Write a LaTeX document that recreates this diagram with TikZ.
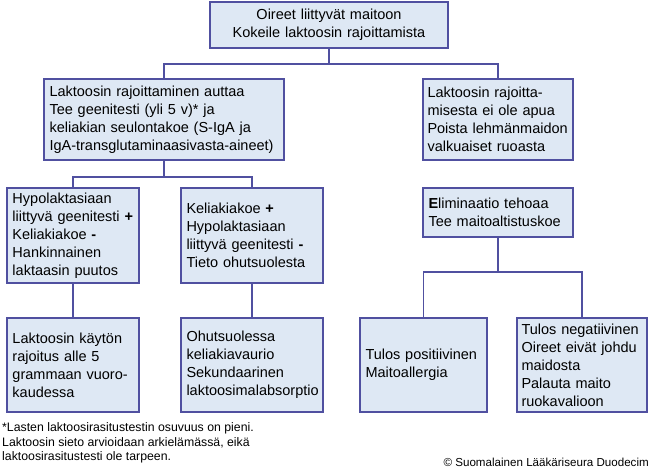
\documentclass[tikz,border=0pt]{standalone}
\usepackage{fontspec}
\setmainfont{Liberation Sans}
\definecolor{bord}{RGB}{80,80,160}
\definecolor{boxfill}{RGB}{222,232,244}
\tikzset{
  box/.style={draw=bord, fill=boxfill, line width=1.3pt, inner xsep=5.5pt, inner ysep=0pt,
    align=left, font=\fontsize{14.5}{18}\selectfont},
  conn/.style={draw=bord, line width=1.3pt},
}
\begin{document}
\begin{tikzpicture}[x=1pt,y=-1pt]
\useasboundingbox (0,0) rectangle (650,469);
% top
\node[box, align=center, minimum width=238pt, minimum height=46pt, text width=227pt] (top) at (329,25)
  {Oireet liittyvät maitoon\\Kokeile laktoosin rajoittamista};
% level 1
\node[box, minimum width=240pt, minimum height=81pt, text width=229pt] (L1) at (164,119.5)
  {Laktoosin rajoittaminen auttaa\\Tee geenitesti (yli 5 v)* ja\\keliakian seulontakoe (S-IgA ja\\IgA-transglutaminaasivasta-aineet)};
\node[box, minimum width=150pt, minimum height=81pt, text width=141pt, inner xsep=4.5pt] (R1) at (498,119.5)
  {Laktoosin rajoitta-\\misesta ei ole apua\\Poista lehmänmaidon\\valkuaiset ruoasta};
% level 2
\node[box, minimum width=132pt, minimum height=95pt, text width=121pt] (L2a) at (73,235.5)
  {Hypolaktasiaan\\liittyvä geenitesti \textbf{+}\\Keliakiakoe \textbf{-}\\Hankinnainen\\laktaasin puutos};
\node[box, minimum width=142pt, minimum height=95pt, text width=131pt] (L2b) at (252,235.5)
  {Keliakiakoe \textbf{+}\\Hypolaktasiaan\\liittyvä geenitesti \textbf{-}\\Tieto ohutsuolesta};
\node[box, minimum width=150pt, minimum height=49pt, text width=139pt] (R2) at (498,212.5)
  {\textbf{E}liminaatio tehoaa\\Tee maitoaltistuskoe};
% level 3
\node[box, minimum width=132pt, minimum height=94pt, text width=121pt] (B1) at (73,365)
  {Laktoosin käytön\\rajoitus alle 5\\grammaan vuoro-\\kaudessa};
\node[box, minimum width=142pt, minimum height=94pt, text width=131pt] (B2) at (252,365)
  {Ohutsuolessa\\keliakiavaurio\\Sekundaarinen\\laktoosimalabsorptio};
\node[box, minimum width=127pt, minimum height=94pt, text width=116pt] (B3) at (423.5,365)
  {Tulos positiivinen\\Maitoallergia};
\node[box, minimum width=130pt, minimum height=94pt, text width=121pt, inner xsep=4.5pt] (B4) at (582,365)
  {Tulos negatiivinen\\Oireet eivät johdu\\maidosta\\Palauta maito\\ruokavalioon};
% footnote and copyright
\node[anchor=west, align=left, inner sep=0pt, font=\fontsize{12.3}{14.5}\selectfont] (note) at (2,443)
  {*Lasten laktoosirasitustestin osuvuus on pieni.\\Laktoosin sieto arvioidaan arkielämässä, eikä\\laktoosirasitustesti ole tarpeen.};
\node[anchor=east, inner sep=0pt, font=\fontsize{11.6}{14}\selectfont] (copy) at (649,462)
  {© Suomalainen Lääkäriseura Duodecim};
% connectors
\coordinate (j1) at (329,64);
\coordinate (j2) at (164,177);
\coordinate (j3) at (498,272);
\draw[conn] (top.south) -- (j1);
\draw[conn] (L1.north) |- (j1) -| (R1.north);
\draw[conn] (L1.south) -- (j2);
\draw[conn] (L2a.north) |- (j2) -| (L2b.north);
\draw[conn] (L2a.south) -- (B1.north);
\draw[conn] (L2b.south) -- (B2.north);
\draw[conn] (R2.south) -- (j3);
\draw[conn] (B3.north) |- (j3) -| (B4.north);
\end{tikzpicture}
\end{document}
